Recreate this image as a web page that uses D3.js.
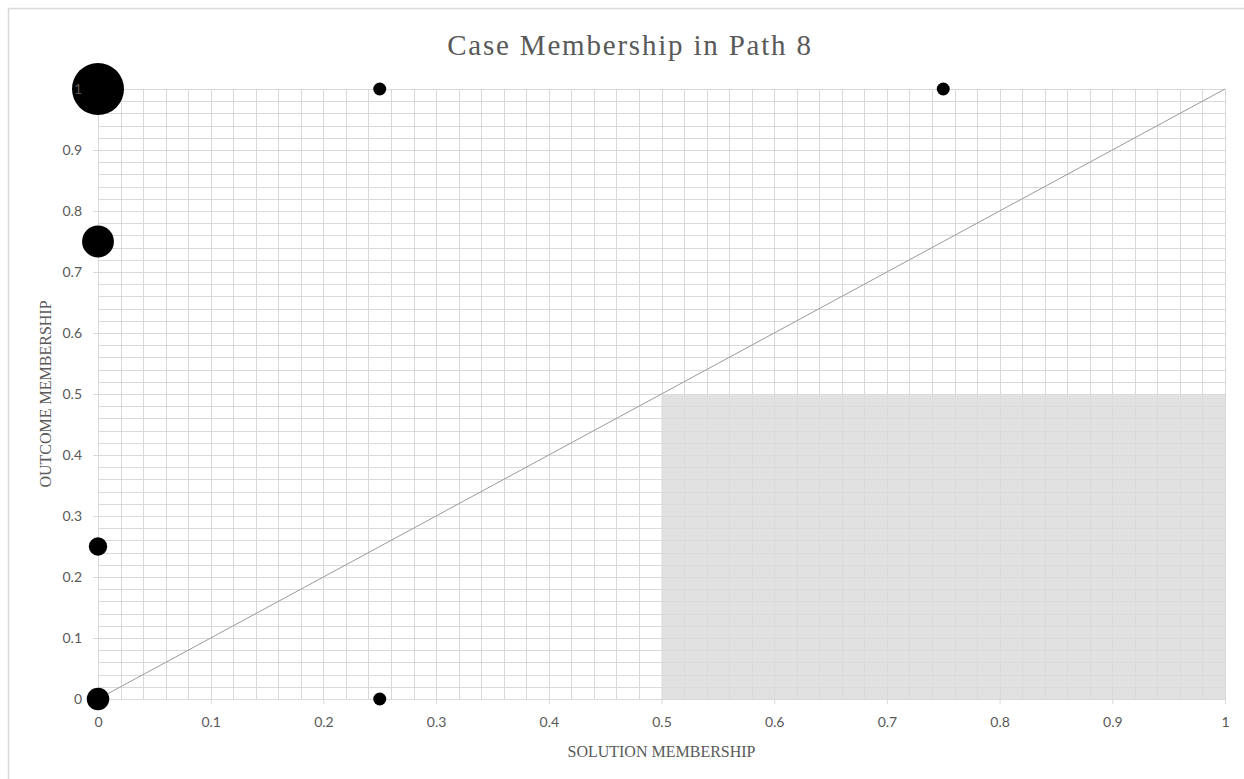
<!DOCTYPE html>
<html>
<head>
<meta charset="utf-8">
<script src="https://cdn.jsdelivr.net/npm/d3@7"></script>
<style>
  html, body { margin: 0; padding: 0; background: #fff; }
  svg { display: block; }
</style>
</head>
<body>
<svg id="chart" width="1244" height="779"></svg>
<script>
// ---- data ----
const solution = [0, 0.25, 0.75, 0, 0, 0, 0.25];
const outcome  = [1, 1, 1, 0.75, 0.25, 0, 0];
const cases    = [16, 1, 1, 6, 2, 3, 1];
const tickValues = [0, 0.1, 0.2, 0.3, 0.4, 0.5, 0.6, 0.7, 0.8, 0.9, 1];
const tickLabels = ["0", "0.1", "0.2", "0.3", "0.4", "0.5", "0.6", "0.7", "0.8", "0.9", "1"];
const gridValues = d3.range(0, 51).map(i => i / 50);
const shadeX = [0.5, 1];
const shadeY = [0, 0.5];
const diagonal = [[0, 0], [1, 1]];
const chartTitle = "Case Membership in Path 8";
const xTitle = "SOLUTION MEMBERSHIP";
const yTitle = "OUTCOME MEMBERSHIP";

// ---- layout ----
const svg = d3.select("#chart");
const mLeft = 98, mRight = 1225, mTop = 89, mBottom = 699;
const x = d3.scaleLinear().domain([0, 1]).range([mLeft, mRight]);
const y = d3.scaleLinear().domain([0, 1]).range([mBottom, mTop]);
const r = d3.scaleSqrt().domain([0, 16]).range([0, 26]);
const labelFont = "Lato, 'Open Sans', sans-serif";
const serifFont = "'Liberation Serif', 'DejaVu Serif', serif";

// outer chart border
svg.append("path")
  .attr("d", "M8.5,800 L8.5,8.5 L1300,8.5")
  .attr("fill", "none").attr("stroke", "#d9d9d9").attr("stroke-width", 1.5);

// grid
const grid = svg.append("g").attr("stroke", "#d9d9d9").attr("stroke-width", 1);
grid.selectAll("line.v").data(gridValues).join("line")
  .attr("class", "v")
  .attr("x1", d => Math.round(x(d)) + 0.5).attr("x2", d => Math.round(x(d)) + 0.5)
  .attr("y1", y(0)).attr("y2", y(1));
grid.selectAll("line.h").data(gridValues).join("line")
  .attr("class", "h")
  .attr("y1", d => Math.round(y(d)) + 0.5).attr("y2", d => Math.round(y(d)) + 0.5)
  .attr("x1", x(0)).attr("x2", x(1));

// shaded region
svg.append("rect")
  .attr("x", x(shadeX[0])).attr("y", y(shadeY[1]))
  .attr("width", x(shadeX[1]) - x(shadeX[0]))
  .attr("height", y(shadeY[0]) - y(shadeY[1]))
  .attr("fill", "#d9d9d9").attr("fill-opacity", 0.8);

// axis lines and ticks (under the bubbles)
const xAxis = d3.axisBottom(x).tickValues(tickValues)
  .tickFormat((d, i) => tickLabels[i]).tickSize(5).tickSizeOuter(0);
const yAxis = d3.axisLeft(y).tickValues(tickValues)
  .tickFormat((d, i) => tickLabels[i]).tickSize(5).tickSizeOuter(0);
const gx = svg.append("g").attr("transform", `translate(0,${mBottom})`).call(xAxis);
const gy = svg.append("g").attr("transform", `translate(${mLeft},0)`).call(yAxis);
[gx, gy].forEach(g => {
  g.select(".domain").attr("stroke", "#d9d9d9").attr("stroke-width", 1);
  g.selectAll(".tick line").attr("stroke", "#d9d9d9");
  g.selectAll(".tick text").remove();
});

// diagonal
svg.append("line")
  .attr("x1", x(diagonal[0][0])).attr("y1", y(diagonal[0][1]))
  .attr("x2", x(diagonal[1][0])).attr("y2", y(diagonal[1][1]))
  .attr("stroke", "#9a9a9a").attr("stroke-width", 1);

// bubbles
const pts = solution.map((s, i) => ({ s, o: outcome[i], n: cases[i] }));
svg.append("g").selectAll("circle").data(pts).join("circle")
  .attr("cx", d => x(d.s)).attr("cy", d => y(d.o)).attr("r", d => r(d.n))
  .attr("fill", "#000");

// tick labels (over the bubbles)
const lx = svg.append("g").attr("transform", `translate(0,${mBottom})`).call(xAxis);
const ly = svg.append("g").attr("transform", `translate(${mLeft},0)`).call(yAxis);
[lx, ly].forEach(g => {
  g.select(".domain").remove();
  g.selectAll(".tick line").remove();
  g.selectAll(".tick text")
    .attr("fill", "#595959")
    .style("font-family", labelFont)
    .style("font-size", "14px");
});
lx.selectAll(".tick text").attr("y", 18).attr("dy", "0.71em");
ly.selectAll(".tick text").attr("x", -16);

// titles
svg.append("text")
  .attr("x", 630).attr("y", 55)
  .attr("text-anchor", "middle")
  .attr("fill", "#595959")
  .style("font-family", serifFont)
  .style("font-size", "29px")
  .style("letter-spacing", "1.8px")
  .text(chartTitle);

svg.append("text")
  .attr("x", (mLeft + mRight) / 2).attr("y", 757)
  .attr("text-anchor", "middle")
  .attr("fill", "#595959")
  .style("font-family", serifFont)
  .style("font-size", "16px")
  .text(xTitle);

svg.append("text")
  .attr("transform", `translate(51,${(mTop + mBottom) / 2}) rotate(-90)`)
  .attr("text-anchor", "middle")
  .attr("fill", "#595959")
  .style("font-family", serifFont)
  .style("font-size", "16px")
  .text(yTitle);
</script>
</body>
</html>
